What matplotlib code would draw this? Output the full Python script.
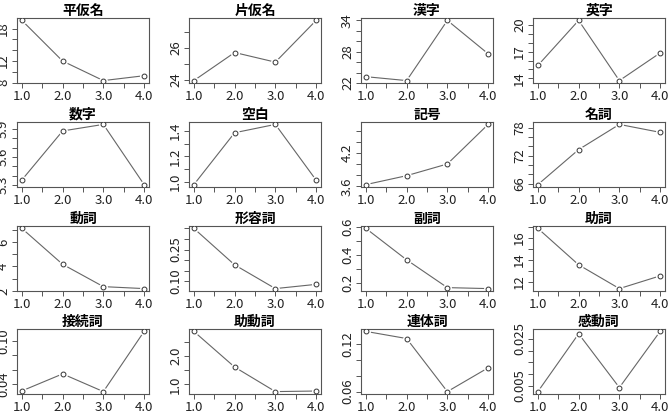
import numpy as np
import matplotlib
matplotlib.use('Agg')
import matplotlib.pyplot as plt
from matplotlib.ticker import MultipleLocator, FuncFormatter

plt.rcParams['font.family'] = ['Noto Sans CJK JP', 'DejaVu Sans']
plt.rcParams['axes.unicode_minus'] = False

# x値
x = [1.0, 2.0, 3.0, 4.0]

# 各品詞・文字種の値
titles = ['平仮名', '片仮名', '漢字', '英字',
          '数字', '空白', '記号', '名詞',
          '動詞', '形容詞', '副詞', '助詞',
          '接続詞', '助動詞', '連体詞', '感動詞']
hiragana = [19.5, 12.0, 8.4, 9.3]
katakana = [23.95, 25.7, 25.1, 27.7]
kanji = [23.2, 22.45, 34.0, 27.6]
eiji = [15.45, 20.5, 13.75, 16.85]
suji = [5.355, 5.88, 5.95, 5.305]
kuhaku = [0.98, 1.385, 1.45, 1.015]
kigou = [3.63, 3.79, 4.0, 4.71]
meishi = [65.8, 73.3, 78.7, 77.0]
doushi = [7.1, 4.17, 2.35, 2.19]
keiyoushi = [0.35, 0.178, 0.066, 0.086]
fukushi = [0.59, 0.364, 0.164, 0.157]
joshi = [16.84, 13.55, 11.4, 12.55]
setsuzokushi = [0.03, 0.054, 0.029, 0.114]
jodoushi = [2.86, 1.61, 0.75, 0.77]
rentaishi = [0.136, 0.127, 0.06, 0.09]
kandoushi = [0.0026, 0.0271, 0.0043, 0.0281]

series = [hiragana, katakana, kanji, eiji, suji, kuhaku, kigou, meishi,
          doushi, keiyoushi, fukushi, joshi, setsuzokushi, jodoushi,
          rentaishi, kandoushi]

# y目盛り間隔とラベルを出す値
y_steps = [2, 1, 2, 1, 0.1, 0.1, 0.2, 2, 1, 0.05, 0.1, 1, 0.02, 0.5, 0.02, 0.005]
y_labels = [['8', '12', '18'], ['24', '26'], ['22', '28', '34'], ['14', '17', '20'],
            ['5.3', '5.6', '5.9'], ['1.0', '1.2', '1.4'], ['3.6', '4.2'], ['66', '72', '78'],
            ['2', '4', '6'], ['0.10', '0.25'], ['0.2', '0.4', '0.6'], ['12', '14', '16'],
            ['0.04', '0.10'], ['1.0', '2.0'], ['0.06', '0.12'], ['0.005', '0.025']]
x_labels = ['1.0', '2.0', '3.0', '4.0']

W, H = 669, 418
fig = plt.figure(figsize=(W / 100, H / 100), dpi=100)

col_left = [17, 189, 361, 533]
col_w = 132
row_top = [18, 122, 226, 329]
row_h = 65

grey = '#555555'

for i in range(16):
    r, c = divmod(i, 4)
    ax = fig.add_axes([col_left[c] / W, 1 - (row_top[r] + row_h) / H,
                       col_w / W, row_h / H])
    y = series[i]
    # R の type="b" 風: 線 → 白い下地 → 白抜き丸
    ax.plot(x, y, color='#666666', lw=0.8, zorder=1)
    ax.plot(x, y, 'o', ms=6.5, mfc='white', mec='none', zorder=2)
    ax.plot(x, y, 'o', ms=3.5, mfc='white', mec='#333333', mew=0.7, zorder=3)

    pad = (max(y) - min(y)) * 0.04
    ax.set_ylim(min(y) - pad, max(y) + pad)
    ax.set_xlim(1 - 0.12, 4 + 0.12)

    ax.xaxis.set_major_locator(MultipleLocator(0.5))
    ax.xaxis.set_major_formatter(FuncFormatter(
        lambda v, p: ('%.1f' % v) if ('%.1f' % v) in x_labels else ''))
    ax.yaxis.set_major_locator(MultipleLocator(y_steps[i]))
    labs = y_labels[i]
    ndig = max(len(s.split('.')[1]) if '.' in s else 0 for s in labs)
    ax.yaxis.set_major_formatter(FuncFormatter(
        lambda v, p, labs=labs, nd=ndig: ('%.*f' % (nd, v)) if ('%.*f' % (nd, v)) in labs else ''))

    ax.tick_params(direction='out', length=3.5, width=0.7, color=grey,
                   labelsize=9.5, labelcolor='#222222', pad=1.5)
    ax.tick_params(axis='y', labelrotation=90)
    for lab in ax.get_yticklabels():
        lab.set_va('center')
    for s in ax.spines.values():
        s.set_color(grey)
        s.set_linewidth(0.8)

    ax.set_title(titles[i], fontsize=10, fontweight='bold', pad=2.5)

fig.savefig('out.png', dpi=100)
